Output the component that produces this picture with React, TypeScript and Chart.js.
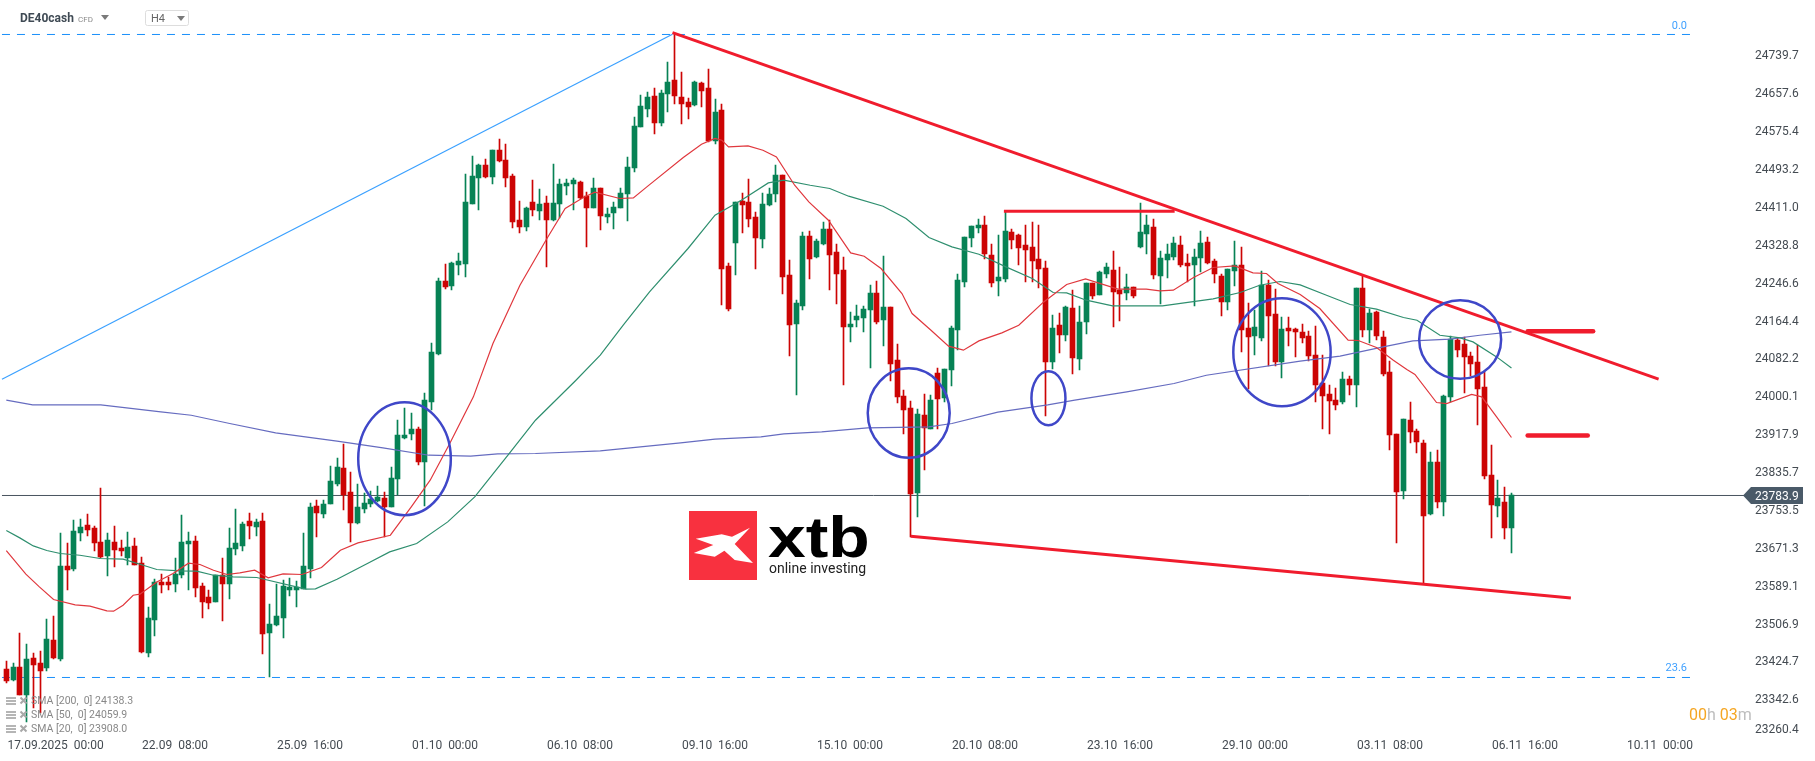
import React, { useEffect, useRef } from 'react';
import { Chart, registerables } from 'chart.js';

Chart.register(...registerables);

const opens = [
  23407, 23383, 23411, 23351, 23431, 23420, 23409, 23470, 23429, 23630,
  23624, 23702, 23719, 23713, 23683, 23652, 23683, 23670, 23648, 23674,
  23637, 23442, 23513, 23596, 23596, 23591, 23611, 23678, 23685, 23587,
  23563, 23553, 23611, 23591, 23667, 23674, 23728, 23715, 23728, 23486,
  23502, 23518, 23578, 23578, 23581, 23624, 23761, 23743, 23765, 23808,
  23843, 23791, 23724, 23754, 23765, 23772, 23778, 23759, 23819, 23908,
  23917, 23928, 23856, 23986, 24091, 24249, 24238, 24284, 24286, 24416,
  24472, 24501, 24475, 24533, 24511, 24477, 24381, 24366, 24420, 24401,
  24418, 24381, 24416, 24455, 24459, 24464, 24433, 24407, 24451, 24388,
  24397, 24407, 24438, 24494, 24583, 24622, 24650, 24592, 24655, 24685,
  24648, 24637, 24631, 24679, 24668, 24553, 24620, 24282, 24331, 24423,
  24420, 24388, 24340, 24414, 24438, 24479, 24262, 24156, 24195, 24347,
  24301, 24329, 24362, 24312, 24273, 24149, 24164, 24169, 24186, 24223,
  24164, 24192, 24077, 23999, 23973, 23789, 23958, 23928, 24049, 23995,
  24056, 24143, 24247, 24342, 24364, 24370, 24305, 24249, 24253, 24355,
  24349, 24327, 24323, 24297, 24277, 24073, 24153, 24132, 24190, 24080,
  24160, 24244, 24219, 24264, 24273, 24229, 24223, 24236, 24323, 24351,
  24366, 24260, 24294, 24301, 24327, 24288, 24284, 24299, 24333, 24292,
  24260, 24203, 24271, 24284, 24147, 24130, 24125, 24240, 24177, 24073,
  24147, 24145, 24138, 24130, 24088, 24028, 24004, 23991, 23986, 24036,
  24023, 24234, 24143, 24182, 24127, 24051, 23917, 23793, 23947, 23923,
  23897, 23743, 23856, 23769, 23997, 24121, 24112, 24086, 24073, 24019,
  23828, 23761, 23769, 23713,
];

const highs = [
  23424, 23420, 23485, 23461, 23442, 23446, 23515, 23522, 23702, 23680,
  23730, 23733, 23743, 23717, 23800, 23702, 23717, 23687, 23704, 23691,
  23650, 23542, 23602, 23613, 23607, 23648, 23741, 23704, 23696, 23594,
  23578, 23611, 23648, 23713, 23754, 23726, 23746, 23733, 23745, 23549,
  23591, 23600, 23605, 23598, 23702, 23767, 23775, 23774, 23848, 23865,
  23895, 23834, 23808, 23789, 23793, 23804, 23791, 23845, 23947, 23973,
  23963, 23932, 24006, 24114, 24255, 24286, 24290, 24310, 24481, 24520,
  24503, 24514, 24533, 24557, 24546, 24481, 24423, 24409, 24468, 24449,
  24433, 24503, 24470, 24470, 24473, 24466, 24442, 24473, 24451, 24407,
  24420, 24451, 24518, 24605, 24653, 24659, 24668, 24663, 24724, 24786,
  24702, 24646, 24683, 24681, 24709, 24644, 24633, 24288, 24420, 24440,
  24470, 24399, 24440, 24451, 24501, 24480, 24295, 24208, 24355, 24357,
  24340, 24377, 24381, 24329, 24301, 24182, 24197, 24195, 24240, 24249,
  24303, 24192, 24112, 24012, 23989, 23971, 24004, 24002, 24060, 24058,
  24151, 24264, 24344, 24368, 24383, 24390, 24329, 24349, 24399, 24362,
  24351, 24370, 24377, 24371, 24292, 24175, 24179, 24195, 24229, 24195,
  24244, 24245, 24271, 24288, 24314, 24279, 24264, 24237, 24418, 24392,
  24383, 24314, 24329, 24344, 24347, 24307, 24318, 24357, 24344, 24297,
  24264, 24275, 24336, 24323, 24201, 24186, 24271, 24251, 24232, 24171,
  24171, 24147, 24155, 24140, 24151, 24088, 24023, 24017, 24051, 24043,
  24234, 24260, 24188, 24184, 24140, 24075, 23918, 23949, 23986, 23928,
  23904, 23878, 23882, 24001, 24130, 24125, 24127, 24095, 24110, 24051,
  23893, 23817, 23802, 23789,
];

const lows = [
  23378, 23381, 23350, 23293, 23322, 23311, 23403, 23429, 23424, 23578,
  23620, 23685, 23696, 23663, 23648, 23609, 23628, 23652, 23633, 23632,
  23442, 23433, 23479, 23572, 23578, 23574, 23604, 23578, 23563, 23518,
  23537, 23553, 23511, 23559, 23654, 23663, 23689, 23696, 23440, 23390,
  23500, 23475, 23565, 23542, 23581, 23604, 23694, 23735, 23765, 23804,
  23752, 23683, 23722, 23745, 23759, 23770, 23694, 23759, 23784, 23906,
  23904, 23850, 23761, 23969, 24088, 24232, 24229, 24262, 24258, 24416,
  24403, 24472, 24459, 24507, 24453, 24364, 24353, 24357, 24390, 24381,
  24279, 24380, 24386, 24436, 24403, 24427, 24323, 24407, 24360, 24375,
  24362, 24407, 24379, 24485, 24583, 24605, 24568, 24585, 24616, 24633,
  24590, 24600, 24629, 24627, 24552, 24546, 24197, 24184, 24262, 24353,
  24366, 24275, 24321, 24412, 24420, 24221, 24086, 24002, 24186, 24253,
  24299, 24327, 24229, 24199, 24023, 24117, 24149, 24138, 24060, 24156,
  24108, 24032, 23984, 23917, 23694, 23737, 23839, 23928, 23928, 23986,
  24021, 24099, 24236, 24323, 24353, 24297, 24236, 24216, 24247, 24318,
  24284, 24247, 24247, 24234, 23956, 24058, 24093, 24119, 24047, 24056,
  24134, 24210, 24219, 24255, 24149, 24162, 24208, 24212, 24321, 24307,
  24253, 24199, 24255, 24294, 24279, 24247, 24195, 24268, 24286, 24245,
  24173, 24186, 24238, 24095, 24015, 24088, 24119, 24064, 24064, 24038,
  24108, 24084, 24114, 24075, 23986, 23928, 23917, 23969, 23982, 24001,
  23975, 24127, 24114, 24121, 24043, 23882, 23680, 23776, 23897, 23876,
  23594, 23741, 23756, 23739, 23986, 24084, 24006, 24043, 23936, 23819,
  23691, 23737, 23689, 23659,
];

const closes = [
  23381, 23411, 23351, 23429, 23416, 23403, 23472, 23431, 23630, 23622,
  23706, 23715, 23709, 23680, 23650, 23687, 23665, 23663, 23672, 23633,
  23444, 23518, 23596, 23589, 23589, 23613, 23683, 23685, 23583, 23553,
  23550, 23611, 23591, 23670, 23680, 23722, 23717, 23726, 23483, 23504,
  23522, 23587, 23585, 23585, 23631, 23759, 23746, 23765, 23815, 23845,
  23784, 23724, 23759, 23767, 23776, 23780, 23759, 23821, 23915, 23915,
  23928, 23856, 23991, 24095, 24249, 24236, 24288, 24292, 24420, 24477,
  24501, 24475, 24533, 24509, 24472, 24377, 24366, 24407, 24403, 24416,
  24381, 24418, 24459, 24462, 24468, 24429, 24407, 24451, 24390, 24394,
  24410, 24440, 24496, 24585, 24629, 24648, 24592, 24657, 24681, 24650,
  24633, 24627, 24681, 24661, 24553, 24616, 24275, 24188, 24420, 24414,
  24383, 24342, 24416, 24438, 24479, 24258, 24153, 24201, 24347, 24297,
  24336, 24362, 24305, 24264, 24149, 24156, 24173, 24188, 24223, 24160,
  24192, 24069, 23997, 23969, 23787, 23960, 23930, 23991, 23993, 24058,
  24147, 24251, 24344, 24368, 24370, 24307, 24245, 24258, 24357, 24338,
  24320, 24316, 24292, 24276, 24073, 24147, 24132, 24192, 24082, 24160,
  24244, 24216, 24268, 24279, 24225, 24221, 24236, 24216, 24355, 24370,
  24262, 24299, 24307, 24331, 24284, 24281, 24301, 24331, 24288, 24264,
  24203, 24275, 24284, 24143, 24127, 24149, 24240, 24173, 24073, 24145,
  24140, 24138, 24125, 24086, 24023, 23999, 23989, 23980, 24036, 24023,
  24234, 24143, 24179, 24130, 24047, 23915, 23791, 23949, 23921, 23900,
  23739, 23856, 23769, 23999, 24123, 24099, 24084, 24069, 24015, 23826,
  23763, 23778, 23713, 23784,
];

// moving averages at their bends: [candle index, price]
const sma20: [number, number][] = [
  [0, 23664.5], [2.9, 23613.1], [4.9, 23585.6], [7, 23558.2], [10.2, 23546.5], [12.4, 23543.7],
  [14.9, 23533.5], [15.9, 23532.8], [17.3, 23545.8], [18.8, 23567.5], [19.8, 23569.7], [22.3, 23596.4],
  [24.7, 23614.7], [27, 23637], [28.7, 23634.2], [30.7, 23621.8], [32.7, 23612.5], [34.6, 23615.9],
  [36.8, 23621.8], [38.8, 23605.1], [41, 23613.8], [43.8, 23612.5], [46.7, 23627.7], [49.5, 23665.2],
  [52.1, 23681], [56.9, 23697.7], [60, 23759.2], [62.8, 23817.1], [65.7, 23896.7], [69.2, 23997.9],
  [72.1, 24113.7], [76.1, 24240.2], [80.1, 24341.6], [82.8, 24406.7], [85.5, 24430.6], [87.2, 24442.1],
  [90.9, 24428.4], [92.9, 24429.7], [94.9, 24453.6], [100.3, 24517.4], [103, 24546.2], [105, 24558.6],
  [106, 24554.9], [107, 24540.4], [109.9, 24542.5], [112.1, 24533.2], [114.1, 24518.7], [116.8, 24457.2],
  [118.9, 24421], [121.8, 24381.3], [125.1, 24310.3], [127.1, 24303.2], [129.6, 24276.5], [132.7, 24222.2],
  [134.2, 24178.8], [137, 24142.6], [139.6, 24107.9], [141.8, 24099.2], [144.1, 24119.4], [147.5, 24136.7],
  [150, 24153.4], [153.7, 24204], [157.1, 24241.8], [159.9, 24253.9], [164.7, 24231.6], [168.9, 24231.6],
  [170.9, 24227.9], [172.9, 24229.4], [175.9, 24257], [178.8, 24278.7], [182, 24282.1], [184.7, 24266.9],
  [186.7, 24265.7], [188.4, 24243.9], [191.7, 24220.1], [194.6, 24189.7], [198.8, 24120.9], [200.3, 24120.2],
  [203, 24105.1], [205.5, 24077.5], [207.5, 24057.3], [208.7, 24046.5], [211.9, 23985.7], [213.4, 23983.5],
  [217.1, 24003.1], [218.6, 23997.9], [220.8, 23954.5], [223, 23909.8],
];

const sma50: [number, number][] = [
  [0, 23707.9], [2, 23691.9], [4, 23674.5], [6, 23664.5], [8, 23658], [10.9, 23654.3], [13.9, 23647.2],
  [17.3, 23645.7], [19.8, 23634.8], [22.3, 23623.3], [25.7, 23620.3], [28.2, 23619.6], [30.7, 23610.9],
  [33.6, 23607.3], [37.1, 23606], [44.4, 23580.6], [45.8, 23581.2], [49, 23602.3], [53.5, 23636.3],
  [56.8, 23661.5], [60.8, 23679.7], [65.4, 23726.6], [69.4, 23780.9], [74.5, 23875], [78.4, 23947.3],
  [84.4, 24034.1], [88, 24088.3], [91.4, 24153.4], [95.3, 24225.7], [101, 24319.9], [105, 24392.1],
  [108.9, 24424.7], [112.9, 24462.2], [115.2, 24468.1], [119.1, 24457.2], [122, 24450.1], [124.8, 24433.4],
  [129.9, 24411.7], [133.3, 24385], [136.7, 24343.8], [140.1, 24323.4], [144.1, 24307.5], [148.1, 24280],
  [152, 24254.8], [155.1, 24224.4], [157.1, 24223.5], [160, 24207.7], [163.9, 24195.3], [171.3, 24195.3],
  [178.8, 24210.5], [182.8, 24224.4], [185.7, 24240.2], [188.7, 24248.3], [191.7, 24240.9], [195.6, 24218.5],
  [199.1, 24198.4], [203, 24188.2], [207, 24170.2], [209, 24164.3], [212.4, 24131.7], [215.4, 24125.9],
  [217.3, 24117.2], [220.8, 24084.7], [223, 24060.8],
];

const sma200: [number, number][] = [
  [0, 23990.7], [3.9, 23980.5], [14, 23980.5], [22.9, 23965.3], [27.4, 23958.1], [33.1, 23940.1],
  [39.9, 23919.7], [49, 23901.7], [55.8, 23887.2], [62.6, 23871.3], [68.8, 23869.2], [72.8, 23874.2],
  [78.4, 23875], [88, 23880.7], [99.9, 23898], [105, 23906.1], [111.8, 23911.1], [115.2, 23917.6],
  [120.8, 23921.9], [127.6, 23930.6], [136.7, 23932.7], [140.1, 23940.1], [146.9, 23964.7], [154.3, 23980.5],
  [158.3, 23990.7], [166, 24008.7], [173, 24026.9], [177.8, 24044.9], [191.7, 24075.3], [197.6, 24086.2],
  [204, 24106.4], [208.4, 24119.4], [213.9, 24123.1], [218.3, 24131.7], [223, 24138.9],
];

const yTickValues = [
  24739.7, 24657.6, 24575.4, 24493.2, 24411.0, 24328.8, 24246.6, 24164.4, 24082.2, 24000.1,
  23917.9, 23835.7, 23753.5, 23671.3, 23589.1, 23506.9, 23424.7, 23342.6, 23260.4,
];
const xTickIndex = [7.3, 25, 45, 65, 85, 105, 125, 145, 165, 185, 205, 225, 245];
const xTickLabels = [
  '17.09.2025  00:00', '22.09  08:00', '25.09  16:00', '01.10  00:00', '06.10  08:00', '09.10  16:00',
  '15.10  00:00', '20.10  08:00', '23.10  16:00', '29.10  00:00', '03.11  08:00', '06.11  16:00', '10.11  00:00',
];

const lastPrice = 23783.9;
const fib0 = 24784.3;
const fib236 = 23389;

// hand drawn trend lines: [[index, price], [index, price]]
const trendUp: [number, number][] = [[-0.64, 24036.3], [98.7, 24784.9]];
const trendDown: [number, number][] = [[98.7, 24788.2], [244.8, 24036.3]];
const resistance: [number, number][] = [[147.8, 24400.8], [173.1, 24400.8]];
const support: [number, number][] = [[134, 23695.6], [231.8, 23561.7]];
const markerTop: [number, number][] = [[225.4, 24140.4], [235.1, 24140.4]];
const markerBottom: [number, number][] = [[225.4, 23914.1], [234.3, 23914.1]];

// circled areas: [index, price, radius in candles, radius in price]
const circles = [
  [59, 23863.8, 6.86, 122.6],
  [133.7, 23962.9, 6.07, 97.2],
  [154.4, 23995, 2.52, 58.6],
  [189, 24094.9, 7.21, 117.2],
  [215.4, 24122.4, 6.07, 85.3],
];

const smaLegend = ['SMA [200,  0] 24138.3', 'SMA [50,  0] 24059.9', 'SMA [20,  0] 23908.0'];

const UP = '#078255';
const DOWN = '#cc0404';
const DRAW_RED = '#f01c2d';
const FIB_BLUE = '#1a8ffa';
const FONT = 'Roboto';

const toPoints = (list: [number, number][]) => list.map(([x, y]) => ({ x, y }));

const lineSet = (data: { x: number; y: number }[], color: string, width: number, order: number, extra = {}) => ({
  type: 'line' as const,
  data,
  borderColor: color,
  borderWidth: width,
  pointRadius: 0,
  tension: 0,
  order,
  ...extra,
});

// keep the candles on whole pixels so wicks stay one pixel wide
const snapPlugin = {
  id: 'snap',
  afterDatasetsUpdate(chart: Chart) {
    chart.getSortedVisibleDatasetMetas().forEach((meta: any) => {
      if (meta.type !== 'bar') return;
      meta.data.forEach((el: any) => {
        el.x = Math.floor(el.x) + 0.5;
        el.y = Math.round(el.y);
        el.base = Math.round(el.base);
      });
    });
  },
};

// logo sits behind the candles
const logoPlugin = {
  id: 'logo',
  beforeDatasetsDraw(chart: Chart) {
    const ctx = chart.ctx;
    ctx.save();
    ctx.fillStyle = '#f8313f';
    ctx.fillRect(689, 511, 68, 69);
    ctx.fillStyle = '#ffffff';
    ctx.beginPath();
    const star = [[695.7, 538.7], [721.7, 534.3], [732, 536.7], [750, 527.7], [734.7, 544], [753, 563],
      [734.7, 560], [724.4, 550.7], [714.8, 556.7], [693.8, 553], [713.3, 545]];
    star.forEach(([x, y], i) => (i ? ctx.lineTo(x, y) : ctx.moveTo(x, y)));
    ctx.closePath();
    ctx.fill();
    ctx.fillStyle = '#000000';
    ctx.textBaseline = 'alphabetic';
    ctx.textAlign = 'left';
    ctx.save();
    ctx.translate(768, 557);
    ctx.scale(1.17, 1);
    ctx.font = 'bold 58px "Liberation Sans"';
    ctx.fillText('xtb', 0, 0);
    ctx.restore();
    ctx.fillStyle = '#222222';
    ctx.font = `14px ${FONT}`;
    ctx.fillText('online investing', 769, 573);
    ctx.restore();
  },
};

const overlayPlugin = {
  id: 'overlay',
  afterDraw(chart: Chart) {
    const ctx = chart.ctx;
    const xs = chart.scales.x;
    const ys = chart.scales.y;
    ctx.save();

    // circles
    ctx.strokeStyle = '#3f47c8';
    ctx.lineWidth = 2.5;
    circles.forEach(([i, p, ri, rp]) => {
      const cx = xs.getPixelForValue(i);
      const cy = ys.getPixelForValue(p);
      const rx = Math.abs(xs.getPixelForValue(i + ri) - cx);
      const ry = Math.abs(ys.getPixelForValue(p + rp) - cy);
      ctx.beginPath();
      ctx.ellipse(cx, cy, rx, ry, 0, 0, Math.PI * 2);
      ctx.stroke();
    });

    // header
    ctx.textBaseline = 'middle';
    ctx.textAlign = 'left';
    ctx.fillStyle = '#3f4a54';
    ctx.font = `bold 12px ${FONT}`;
    ctx.fillText('DE40cash', 20, 19);
    ctx.fillStyle = '#8a8a8a';
    ctx.font = `8px ${FONT}`;
    ctx.fillText('CFD', 78, 20);
    const tri = (x: number, y: number) => {
      ctx.fillStyle = '#7a7a7a';
      ctx.beginPath();
      ctx.moveTo(x, y);
      ctx.lineTo(x + 8, y);
      ctx.lineTo(x + 4, y + 5);
      ctx.closePath();
      ctx.fill();
    };
    tri(101, 15);
    ctx.strokeStyle = '#dddddd';
    ctx.lineWidth = 1;
    ctx.beginPath();
    ctx.roundRect(145.5, 10.5, 43, 15, 2);
    ctx.stroke();
    ctx.fillStyle = '#666666';
    ctx.font = `11px ${FONT}`;
    ctx.fillText('H4', 151, 19.5);
    tri(177, 16);

    // fibonacci labels
    ctx.fillStyle = '#3fa0ff';
    ctx.font = `11px ${FONT}`;
    ctx.textAlign = 'right';
    ctx.fillText('0.0', 1687, 26);
    ctx.fillText('23.6', 1687, 668.5);

    // indicator legend
    ctx.textAlign = 'left';
    smaLegend.forEach((text, i) => {
      const y = 701 + i * 14;
      ctx.fillStyle = '#b5b5b5';
      ctx.fillRect(6, y - 4, 10, 2);
      ctx.fillRect(6, y - 1, 10, 2);
      ctx.fillRect(6, y + 2, 10, 2);
      ctx.strokeStyle = '#a8a8a8';
      ctx.lineWidth = 2;
      ctx.beginPath();
      ctx.moveTo(20.5, y - 3.5);
      ctx.lineTo(26.5, y + 2.5);
      ctx.moveTo(26.5, y - 3.5);
      ctx.lineTo(20.5, y + 2.5);
      ctx.stroke();
      ctx.fillStyle = '#888888';
      ctx.font = `10.5px ${FONT}`;
      ctx.fillText(text, 31, y + 0.5);
    });

    // countdown
    ctx.font = `16px ${FONT}`;
    let cx = 1689;
    [['00', '#f5a623'], ['h ', '#bdbdbd'], ['03', '#f5a623'], ['m', '#bdbdbd']].forEach(([t, c]) => {
      ctx.fillStyle = c;
      ctx.fillText(t, cx, 716);
      cx += ctx.measureText(t).width;
    });

    // last price tag
    const py = ys.getPixelForValue(lastPrice);
    ctx.fillStyle = '#4a5a68';
    ctx.beginPath();
    ctx.moveTo(1743, py);
    ctx.lineTo(1751, py - 8.5);
    ctx.lineTo(1803, py - 8.5);
    ctx.lineTo(1803, py + 8.5);
    ctx.lineTo(1751, py + 8.5);
    ctx.closePath();
    ctx.fill();
    ctx.fillStyle = '#ffffff';
    ctx.font = `12px ${FONT}`;
    ctx.fillText(lastPrice.toFixed(1), 1755, py + 1.5);
    ctx.restore();
  },
};

const App: React.FC = () => {
  const canvasRef = useRef<HTMLCanvasElement | null>(null);

  useEffect(() => {
    if (!canvasRef.current) return;

    const wicks = highs.map((h, i) => ({ x: i, y: [lows[i], h] }));
    const bodies = opens.map((o, i) => ({ x: i, y: [o, closes[i]] }));
    const colors = opens.map((o, i) => (closes[i] >= o ? UP : DOWN));

    const chart = new Chart(canvasRef.current, {
      type: 'bar',
      data: {
        datasets: [
          lineSet([{ x: -0.64, y: lastPrice }, { x: 257.6, y: lastPrice }], '#4a5560', 1, 9),
          lineSet([{ x: -0.64, y: fib0 }, { x: 249.6, y: fib0 }], FIB_BLUE, 1, 8, { borderDash: [8, 7] }),
          lineSet([{ x: -0.64, y: fib236 }, { x: 249.6, y: fib236 }], FIB_BLUE, 1, 8, { borderDash: [8, 7] }),
          { type: 'bar', data: wicks, backgroundColor: colors, barThickness: 1, grouped: false, order: 7 },
          { type: 'bar', data: bodies, backgroundColor: colors, barThickness: 5, grouped: false, order: 6 },
          lineSet(toPoints(sma200), '#666cc0', 1.2, 5),
          lineSet(toPoints(sma50), '#2f8f6f', 1.2, 4),
          lineSet(toPoints(sma20), '#e0383e', 1.2, 3),
          lineSet(toPoints(trendUp), '#3aa0ff', 1.2, 2),
          lineSet(toPoints(trendDown), DRAW_RED, 3, 1),
          lineSet(toPoints(resistance), DRAW_RED, 3, 1),
          lineSet(toPoints(support), DRAW_RED, 3, 1),
          lineSet(toPoints(markerTop), DRAW_RED, 4.5, 1, { borderCapStyle: 'round' }),
          lineSet(toPoints(markerBottom), DRAW_RED, 4.5, 1, { borderCapStyle: 'round' }),
        ] as any,
      },
      options: {
        animation: false,
        responsive: false,
        devicePixelRatio: 1,
        layout: { padding: 0, autoPadding: false },
        plugins: { legend: { display: false }, tooltip: { enabled: false } },
        scales: {
          x: {
            type: 'linear',
            offset: false,
            min: -0.933,
            max: 257.6,
            grid: { display: false },
            border: { display: false },
            afterBuildTicks: (scale: any) => {
              scale.ticks = xTickIndex.map(value => ({ value }));
            },
            afterFit: (scale: any) => {
              scale.height = 30.8;
              scale.paddingLeft = 0;
              scale.paddingRight = 0;
            },
            ticks: {
              autoSkip: false,
              maxRotation: 0,
              padding: 1,
              color: '#444b52',
              font: { family: FONT, size: 12 },
              callback: (_v: any, i: number) => xTickLabels[i],
            },
          },
          y: {
            position: 'right',
            min: 24859.13 - 2.17 * 730.2,
            max: 24859.13,
            grid: { display: false, drawTicks: false },
            border: { display: false },
            afterBuildTicks: (scale: any) => {
              // labels sit a touch under their level, and the lowest one is held inside the plot
              scale.ticks = yTickValues.map(v => ({ value: Math.max(v - 3, scale.min) }));
            },
            afterFit: (scale: any) => {
              scale.width = 70;
              scale.paddingTop = 0;
              scale.paddingBottom = 0;
            },
            ticks: {
              autoSkip: false,
              padding: 10,
              color: '#444b52',
              font: { family: FONT, size: 12 },
              callback: (_v: any, i: number) => yTickValues[i].toFixed(1),
            },
          },
        },
      },
      plugins: [snapPlugin, logoPlugin, overlayPlugin],
    } as any);

    return () => {
      chart.destroy();
    };
  }, []);

  return (
    <div style={{ position: 'absolute', left: 0, top: 0, width: 1815, height: 761, background: '#fff' }}>
      <canvas ref={canvasRef} width={1815} height={761} style={{ display: 'block' }} />
    </div>
  );
};

export default App;
